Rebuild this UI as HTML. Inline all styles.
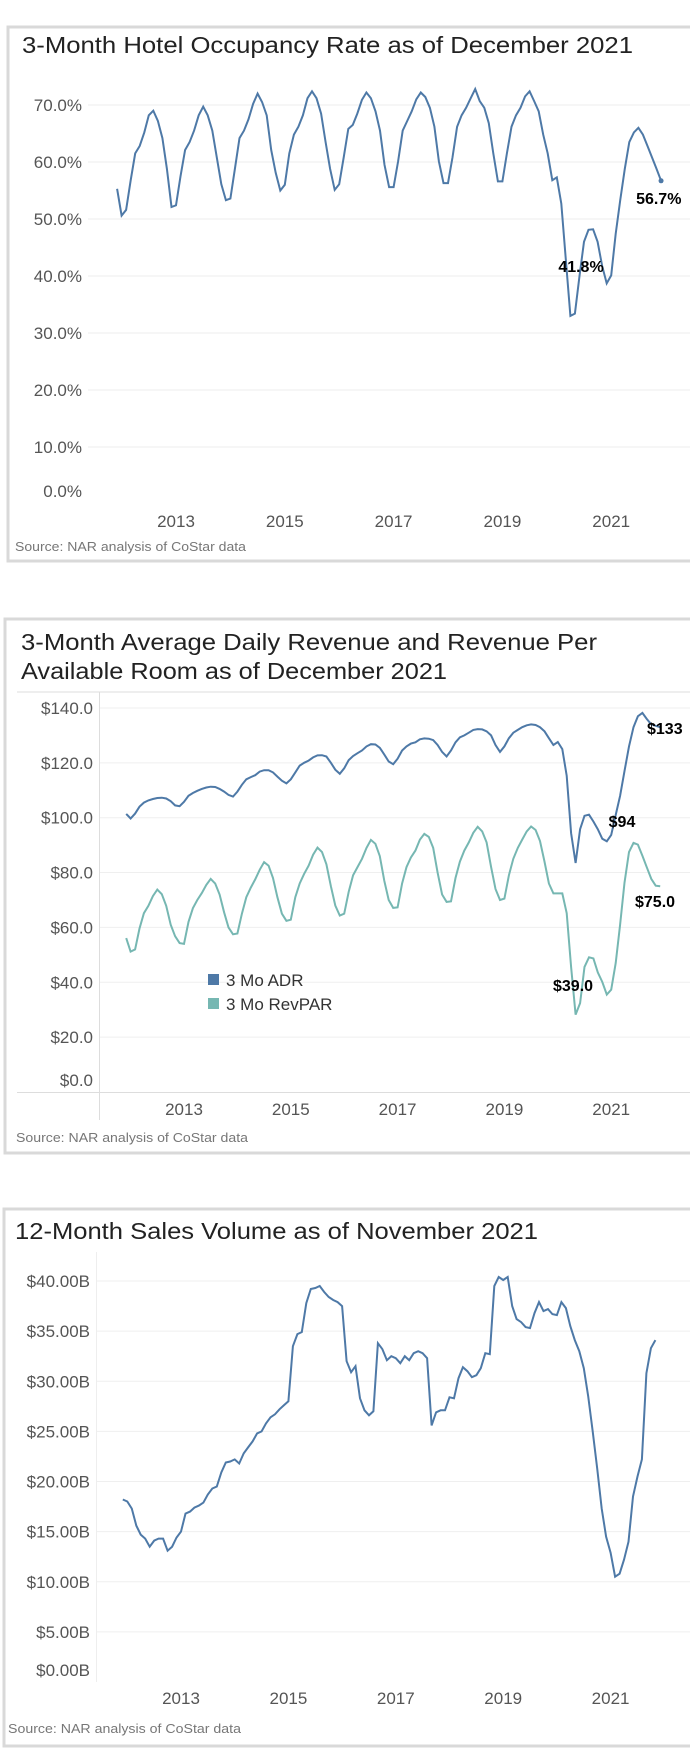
<!DOCTYPE html>
<html><head><meta charset="utf-8">
<style>
html,body{margin:0;padding:0;background:#fff;}
svg{display:block;font-family:"Liberation Sans",Arial,sans-serif;}
.tick{fill:#555;font-size:17px;}
.title{fill:#222;font-size:23px;}
.src{fill:#777;font-size:12.5px;}
.ann{fill:#000;font-size:16px;font-weight:bold;}
</style></head>
<body>
<svg id="root" width="690" height="1762" viewBox="0 0 690 1762">
  <rect x="8" y="27" width="700" height="534" fill="none" stroke="#d9d9d9" stroke-width="3"/>
  <text class="title" x="22" y="53" textLength="611" lengthAdjust="spacingAndGlyphs">3-Month Hotel Occupancy Rate as of December 2021</text>
  <g id="c1"></g>
  <text class="src" x="15" y="551" textLength="231" lengthAdjust="spacingAndGlyphs">Source: NAR analysis of CoStar data</text>

  <rect x="5" y="619" width="700" height="534" fill="none" stroke="#d9d9d9" stroke-width="3"/>
  <text class="title" x="21" y="650" textLength="576" lengthAdjust="spacingAndGlyphs">3-Month Average Daily Revenue and Revenue Per</text>
  <text class="title" x="21" y="679" textLength="426" lengthAdjust="spacingAndGlyphs">Available Room as of December 2021</text>
  <line x1="17" y1="692" x2="690" y2="692" stroke="#ddd" stroke-width="1"/>
  <line x1="99.5" y1="692" x2="99.5" y2="1120" stroke="#ddd" stroke-width="1"/>
  <line x1="17" y1="1092.5" x2="690" y2="1092.5" stroke="#ddd" stroke-width="1"/>
  <g id="c2"></g>
  <rect x="208" y="974" width="11" height="11" fill="#4e79a7"/>
  <text x="226" y="986" fill="#333" font-size="17">3 Mo ADR</text>
  <rect x="208" y="998" width="11" height="11" fill="#76b7b2"/>
  <text x="226" y="1010" fill="#333" font-size="17">3 Mo RevPAR</text>
  <text class="src" x="16" y="1142" textLength="232" lengthAdjust="spacingAndGlyphs">Source: NAR analysis of CoStar data</text>

  <rect x="4" y="1209" width="700" height="537" fill="none" stroke="#d9d9d9" stroke-width="3"/>
  <text class="title" x="15" y="1239" textLength="523" lengthAdjust="spacingAndGlyphs">12-Month Sales Volume as of November 2021</text>
  <line x1="96.5" y1="1252" x2="96.5" y2="1682" stroke="#eee" stroke-width="1"/>
  <g id="c3"></g>
  <text class="src" x="8" y="1733" textLength="233" lengthAdjust="spacingAndGlyphs">Source: NAR analysis of CoStar data</text>
</svg>
<script>
const occYears = ["2013","2015","2017","2019","2021"];
const occTicks = [0,10,20,30,40,50,60,70];
const occupancy = [55.3,
 50.6,51.6,56.8,61.5,62.8,65.2,68.2,69.0,67.2,64.2,58.8,52.1,
 52.4,57.5,62.1,63.5,65.5,68.2,69.7,68.2,65.5,60.8,56.1,53.3,
 53.6,58.8,64.2,65.5,67.5,70.2,72.0,70.5,68.2,62.1,58.1,55.0,
 56.0,61.5,64.8,66.2,68.2,71.2,72.4,71.2,68.5,63.5,58.8,55.1,
 56.1,60.8,65.8,66.5,68.5,70.9,72.2,71.2,68.9,65.5,59.5,55.6,
 55.6,60.1,65.5,67.2,68.9,71.0,72.2,71.4,69.5,66.2,60.1,56.3,
 56.3,60.8,66.2,68.2,69.5,71.2,72.8,70.7,69.5,66.8,61.5,56.6,
 56.6,61.5,66.2,68.2,69.5,71.5,72.4,70.7,68.9,64.8,61.5,56.8,
 57.3,52.7,42.7,33.0,33.4,40.0,46.0,48.1,48.2,46.0,41.8,38.7,
 40.1,47.4,53.4,58.8,63.5,65.2,66.0,64.8,62.8,60.8,58.8,56.7];
const occLabelIdx = [107,120];

const revYears = ["2013","2015","2017","2019","2021"];
const revTicks = [0,20,40,60,80,100,120,140];
const adr = [101.4,
 99.7,101.5,104,105.5,106.3,106.8,107.2,107.3,107,106,104.5,104.2,
 105.8,108,109,109.8,110.5,111,111.3,111.2,110.5,109.5,108.3,107.7,
 109.5,112,114,114.8,115.5,116.8,117.3,117.3,116.5,115,113.5,112.5,
 114,116.5,119,120,120.8,122,122.7,122.8,122.3,120,117.5,116,
 118,121,122.5,123.5,124.5,126,126.8,126.7,125.5,123,120.5,119.5,
 121.5,124.5,126,127,127.5,128.6,128.9,128.8,128.3,126.5,124,122.3,
 124.5,127.5,129.3,130,131,132,132.3,132.2,131.5,130,126.5,124,
 126,129,131,132,133,133.7,134,133.8,133,131.5,129,126.5,
 127.6,125,115.3,94.4,83.5,95.8,100.7,101.1,98.6,95.8,92.3,91.4,
 93.7,101,108,117,126,133,137,138.2,136,134,133.5,133];
const revpar = [56.1,
 51.2,52,59.6,65.2,67.9,71.4,73.8,72.1,67.9,61.0,56.8,54.3,
 54.0,62,67,70,72.5,75.5,77.7,76,72,65.5,60,57.5,
 57.8,65,71,74.5,77.5,81,83.8,82.5,78,71,65,62.4,
 62.8,71,76,79.5,82.5,86.5,89.1,87.5,83,75,68,64.3,
 65,73,79,82,85,89,91.9,90.5,86,77,70,67.1,
 67.3,76,82,85.5,88,92,94.1,93,89,80,72,69.3,
 69.5,78,84,88,91,94.5,96.7,95,91,82,74,70,
 70.5,79,85,89,92,95,96.8,95.5,91.5,84,76,72.4,
 72.4,72.4,65.2,45.6,28.2,32.4,45.6,49.1,48.7,43.6,40.1,35.5,
 37.3,47.0,61,76.3,87.5,90.8,90.2,86.1,81.9,77.7,75.2,75.0];
const adrLabels = ["$133","$94"];
const revparLabels = ["$75.0","$39.0"];

const salesYears = ["2013","2015","2017","2019","2021"];
const salesTicks = [0,5,10,15,20,25,30,35,40];
const sales = [18.2,
 18.0,17.3,15.6,14.7,14.3,13.5,14.1,14.3,14.3,13.1,13.5,14.4,
 15.0,16.8,17.0,17.4,17.6,17.9,18.7,19.3,19.5,20.9,21.9,22.0,
 22.2,21.8,22.8,23.4,24.0,24.8,25.0,25.8,26.4,26.7,27.2,27.6,
 28.0,33.5,34.7,34.9,37.8,39.2,39.3,39.5,38.9,38.4,38.1,37.9,
 37.5,32.0,30.9,31.5,28.3,27.1,26.6,27.0,33.8,33.2,32.1,32.5,
 32.3,31.8,32.5,32.1,32.8,33.0,32.8,32.3,25.6,26.9,27.1,27.1,
 28.4,28.3,30.3,31.4,31.0,30.4,30.6,31.3,32.8,32.7,39.5,40.4,
 40.1,40.4,37.5,36.2,35.9,35.4,35.3,36.8,37.9,37.0,37.2,36.7,
 36.6,37.9,37.3,35.5,34.1,33.0,31.3,28.5,25.0,21.3,17.3,14.5,
 12.9,10.5,10.8,12.2,14.0,18.5,20.5,22.2,30.8,33.3,34.1];

const NS = "http://www.w3.org/2000/svg";
function mk(tag, attrs, parent){
  const e = document.createElementNS(NS, tag);
  for (const k in attrs) e.setAttribute(k, attrs[k]);
  parent.appendChild(e);
  return e;
}
function tOf(i){ return 2011 + 11/12 + i/12; }

const g1 = document.getElementById("c1");
const x1 = t => 176 + (t - 2013) * 54.4;
const y1 = v => 504 - v * 5.7;
occTicks.forEach(v => {
  if (v > 0) {
    const gl = mk("line", {x1:88, x2:690, y1:y1(v), y2:y1(v), stroke:"#ececec", "stroke-width":1}, g1);
    
    
  }
  const tl = mk("text", {x:82, y:(v===0? 497 : y1(v)+6), "text-anchor":"end", class:"tick"}, g1);
  tl.textContent = v.toFixed(1) + "%";
  
  
});
occYears.forEach(yr => {
  const xl = mk("text", {x:x1(+yr), y:527, "text-anchor":"middle", class:"tick"}, g1);
  xl.textContent = yr;
  
  
});
const occPath = mk("path", {d: occupancy.map((v,i)=>(i?"L":"M")+x1(tOf(i)).toFixed(1)+","+y1(v).toFixed(1)).join(""), fill:"none", stroke:"#4e79a7", "stroke-width":2}, g1);


const lastI = occupancy.length - 1;
const occDot = mk("circle", {cx:x1(tOf(lastI)), cy:y1(occupancy[lastI]), r:2.5, fill:"#4e79a7"}, g1);


const a1 = mk("text", {x:581, y:272, "text-anchor":"middle", class:"ann"}, g1);
a1.textContent = occupancy[occLabelIdx[0]].toFixed(1) + "%";


const a2 = mk("text", {x:x1(tOf(occLabelIdx[1])) - 25, y:y1(occupancy[occLabelIdx[1]]) + 23, class:"ann"}, g1);
a2.textContent = occupancy[occLabelIdx[1]].toFixed(1) + "%";



const g2 = document.getElementById("c2");
const x2 = t => 184 + (t - 2013) * 53.4;
const y2 = v => 1092 - v * 2.743;
revTicks.forEach(v => {
  if (v > 0) {
    const gl = mk("line", {x1:100, x2:690, y1:y2(v), y2:y2(v), stroke:"#efefef", "stroke-width":1}, g2);
    
    
  }
  const tl = mk("text", {x:93, y:(v===0? 1086 : y2(v)+6), "text-anchor":"end", class:"tick"}, g2);
  tl.textContent = "$" + v.toFixed(1);
  
  
});
revYears.forEach(yr => {
  const xl = mk("text", {x:x2(+yr), y:1115, "text-anchor":"middle", class:"tick"}, g2);
  xl.textContent = yr;
  
  
});
const adrPath = mk("path", {d: adr.map((v,i)=>(i?"L":"M")+x2(tOf(i)).toFixed(1)+","+y2(v).toFixed(1)).join(""), fill:"none", stroke:"#4e79a7", "stroke-width":2}, g2);


const rpPath = mk("path", {d: revpar.map((v,i)=>(i?"L":"M")+x2(tOf(i)).toFixed(1)+","+y2(v).toFixed(1)).join(""), fill:"none", stroke:"#76b7b2", "stroke-width":2}, g2);


const lb1 = mk("text", {x:647, y:734, class:"ann"}, g2);
lb1.textContent = adrLabels[0];


const lb2 = mk("text", {x:622, y:827, "text-anchor":"middle", class:"ann"}, g2);
lb2.textContent = adrLabels[1];


const lb3 = mk("text", {x:635, y:907, class:"ann"}, g2);
lb3.textContent = revparLabels[0];


const lb4 = mk("text", {x:553, y:991, class:"ann"}, g2);
lb4.textContent = revparLabels[1];



const g3 = document.getElementById("c3");
const x3 = t => 181 + (t - 2013) * 53.7;
const y3 = v => 1682 - v * 10.025;
salesTicks.forEach(v => {
  if (v > 0) {
    const gl = mk("line", {x1:97, x2:690, y1:y3(v), y2:y3(v), stroke:"#efefef", "stroke-width":1}, g3);
    
    
  }
  const tl = mk("text", {x:90, y:(v===0? 1676 : y3(v)+6), "text-anchor":"end", class:"tick"}, g3);
  tl.textContent = "$" + v.toFixed(2) + "B";
  
  
});
salesYears.forEach(yr => {
  const xl = mk("text", {x:x3(+yr), y:1704, "text-anchor":"middle", class:"tick"}, g3);
  xl.textContent = yr;
  
  
});
const sPath = mk("path", {d: sales.map((v,i)=>(i?"L":"M")+x3(tOf(i)).toFixed(1)+","+y3(v).toFixed(1)).join(""), fill:"none", stroke:"#4e79a7", "stroke-width":2}, g3);


</script>
</body></html>
